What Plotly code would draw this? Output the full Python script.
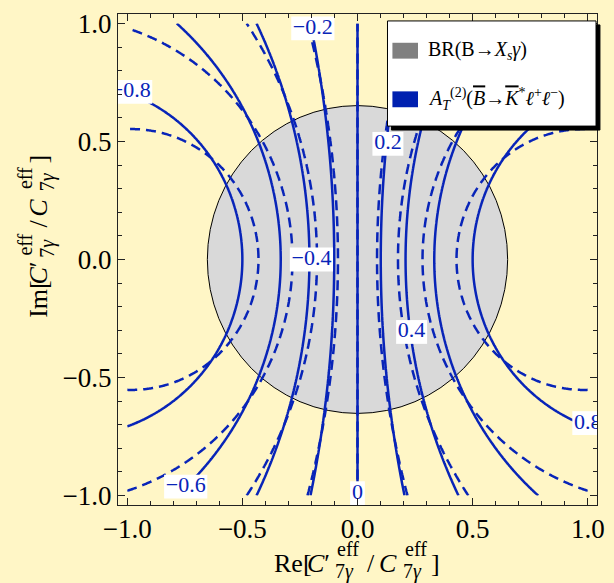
import numpy as np
import plotly.graph_objects as go

# ---------------------------------------------------------------- data
TICK_VALUES = [-1.0, -0.5, 0.0, 0.5, 1.0]
TICK_TEXT = ["−1.0", "−0.5", "0.0", "0.5", "1.0"]
AXIS_RANGE = [-1.04, 1.04]

# scan of r = C7'/C7 in the complex plane
SCAN_RE = np.linspace(-1.0, 1.0, 400)
SCAN_IM = np.linspace(-1.0, 1.0, 400)

CONTOUR_LEVELS = [-0.8, -0.6, -0.4, -0.2, 0.0, 0.2, 0.4, 0.6, 0.8]

# A_T^(2) ~ 2 g Re(r) / (h + |r|^2) for the two settings (solid / dashed)
FAMILY_DASH = ["solid", "10px,6px"]
FAMILY_GAIN = [1.0, 0.786]
FAMILY_OFFSET = [1.0, 0.66]

# BR(B -> Xs gamma) allowed disk |r| < R
BR_RADIUS = 0.652

# contour labels (value text, position in the plane)
LABEL_TEXT = ["−0.2", "−0.8", "0.2", "−0.4", "0.4", "0.8", "−0.6", "0"]
LABEL_RE = [-0.194, -0.985, 0.132, -0.20, 0.235, 1.0, -0.746, 0.0]
LABEL_IM = [0.979, 0.71, 0.49, 0.0, -0.307, -0.693, -0.962, -0.99]

LEGEND_TEXT = [
    "BR(B→<i>X</i><sub><i>s</i></sub><i>γ</i>)",
    "<i>A</i><sub><i>T</i></sub><sup>(2)</sup>(<span style=\"text-decoration:overline\"><i>B</i></span>→"
    "<span style=\"text-decoration:overline\"><i>K</i></span><sup>*</sup><i>ℓ</i><sup>+</sup><i>ℓ</i><sup>−</sup>)",
]
LEGEND_COLORS = ["#808080", "#0020B0"]

# ---------------------------------------------------------------- style
BG = "#FFF6C6"
BLUE = "rgb(8,36,184)"
SERIF = "Liberation Serif"
W, H = 614, 583
ML, MR, MT, MB = 118, 9, 10, 78
PW, PH = W - ML - MR, H - MT - MB
SPAN = AXIS_RANGE[1] - AXIS_RANGE[0]
PX_X = PW / SPAN
PX_Y = PH / SPAN

fig = go.Figure()

X, Y = np.meshgrid(SCAN_RE, SCAN_IM)
for dash, g, h in zip(FAMILY_DASH, FAMILY_GAIN, FAMILY_OFFSET):
    Z = 2.0 * g * X / (h + X ** 2 + Y ** 2)
    fig.add_trace(go.Contour(
        x=SCAN_RE, y=SCAN_IM, z=Z,
        contours=dict(start=CONTOUR_LEVELS[0], end=CONTOUR_LEVELS[-1],
                      size=CONTOUR_LEVELS[1] - CONTOUR_LEVELS[0],
                      coloring="none", showlabels=False),
        line=dict(color=BLUE, width=2.5, dash=dash, smoothing=1.0),
        showscale=False, hoverinfo="skip",
    ))

# white boxes behind the contour labels
ADV = {"−": 0.564, ".": 0.25}
LFS = 22
for txt, lx, ly in zip(LABEL_TEXT, LABEL_RE, LABEL_IM):
    wpx = sum(ADV.get(c, 0.5) for c in txt) * LFS + 4
    hpx = LFS + 2
    dx, dy = wpx / 2 / PX_X, hpx / 2 / PX_Y
    fig.add_trace(go.Scatter(
        x=[lx - dx, lx + dx, lx + dx, lx - dx, lx - dx],
        y=[ly - dy, ly - dy, ly + dy, ly + dy, ly - dy],
        mode="lines", fill="toself", fillcolor="white",
        line=dict(width=0, color="white"), hoverinfo="skip", showlegend=False,
    ))
fig.add_trace(go.Scatter(
    x=LABEL_RE, y=LABEL_IM, text=LABEL_TEXT, mode="text",
    textposition="middle center",
    textfont=dict(family=SERIF, size=LFS, color=BLUE),
    hoverinfo="skip", showlegend=False, cliponaxis=True,
))

# allowed region from BR(B -> Xs gamma)
fig.add_shape(type="circle", xref="x", yref="y",
              x0=-BR_RADIUS, x1=BR_RADIUS, y0=-BR_RADIUS, y1=BR_RADIUS,
              fillcolor="#D9D9D9", line=dict(color="black", width=1),
              layer="below")


def px2paper(px, py):
    return (px - ML) / PW, (H - MB - py) / PH


# legend box with drop shadow
for off, col in ((4, "black"), (0, "white")):
    x0, y0 = px2paper(392 + off, 17 + off)
    x1, y1 = px2paper(604 + off, 123 + off)
    fig.add_shape(type="rect", xref="paper", yref="paper",
                  x0=x0, x1=x1, y0=y1, y1=y0, fillcolor=col,
                  line=dict(color="black", width=1), layer="above")
for i, (txt, col) in enumerate(zip(LEGEND_TEXT, LEGEND_COLORS)):
    cy = 47 + 49 * i
    x0, y0 = px2paper(397, cy - 8)
    x1, y1 = px2paper(423, cy + 8)
    fig.add_shape(type="rect", xref="paper", yref="paper",
                  x0=x0, x1=x1, y0=y1, y1=y0, fillcolor=col,
                  line=dict(width=0), layer="above")
    ax, ay = px2paper(431, cy)
    fig.add_annotation(xref="paper", yref="paper", x=ax, y=ay,
                       xanchor="left", yanchor="middle", showarrow=False,
                       text=txt, font=dict(family=SERIF, size=20, color="black"))


# axis titles built from pieces so that super/subscripts stack
def piece(text, px, py, size, angle=0, xa="left", ya="middle"):
    ax, ay = px2paper(px, py)
    fig.add_annotation(xref="paper", yref="paper", x=ax, y=ay, text=text,
                       xanchor=xa, yanchor=ya, showarrow=False, textangle=angle,
                       font=dict(family=SERIF, size=size, color="black"),
                       borderpad=0)


MAIN, SCRIPT = 26, 20
# Re[C'^eff_7g / C^eff_7g]
piece("Re[", 276, 564, MAIN)
piece("<i>C</i>′", 309, 564, MAIN)
piece("eff", 340, 549, SCRIPT)
piece("7<i>γ</i>", 338, 572, SCRIPT)
piece("/", 370, 564, MAIN)
piece("<i>C</i>", 382, 564, MAIN)
piece("eff", 409, 549, SCRIPT)
piece("7<i>γ</i>", 407, 572, SCRIPT)
piece("]", 435, 564, MAIN)
# Im[C'^eff_7g / C^eff_7g], rotated
piece("Im[", 37, 317, MAIN, -90, "center", "bottom")
piece("<i>C</i>′", 37, 284, MAIN, -90, "center", "bottom")
piece("eff", 23, 255, SCRIPT, -90, "center", "bottom")
piece("7<i>γ</i>", 46, 257, SCRIPT, -90, "center", "bottom")
piece("/", 37, 226, MAIN, -90, "center", "bottom")
piece("<i>C</i>", 37, 215, MAIN, -90, "center", "bottom")
piece("eff", 23, 188, SCRIPT, -90, "center", "bottom")
piece("7<i>γ</i>", 46, 190, SCRIPT, -90, "center", "bottom")
piece("]", 37, 162, MAIN, -90, "center", "bottom")

axis_common = dict(
    range=AXIS_RANGE, tickvals=TICK_VALUES, ticktext=TICK_TEXT,
    showgrid=False, zeroline=False, showline=True, linecolor="#222",
    linewidth=1, mirror="ticks", ticks="inside", ticklen=7, tickwidth=1,
    tickcolor="#222",
    minor=dict(ticks="inside", ticklen=4, dtick=0.1, tickcolor="#222",
               tickwidth=1),
    tickfont=dict(family=SERIF, size=27, color="black"),
)
fig.update_xaxes(**axis_common)
fig.update_yaxes(**axis_common)

fig.update_layout(
    width=W, height=H, margin=dict(l=ML, r=MR, t=MT, b=MB),
    paper_bgcolor=BG, plot_bgcolor=BG, showlegend=False,
)

fig.write_html("out.html")
